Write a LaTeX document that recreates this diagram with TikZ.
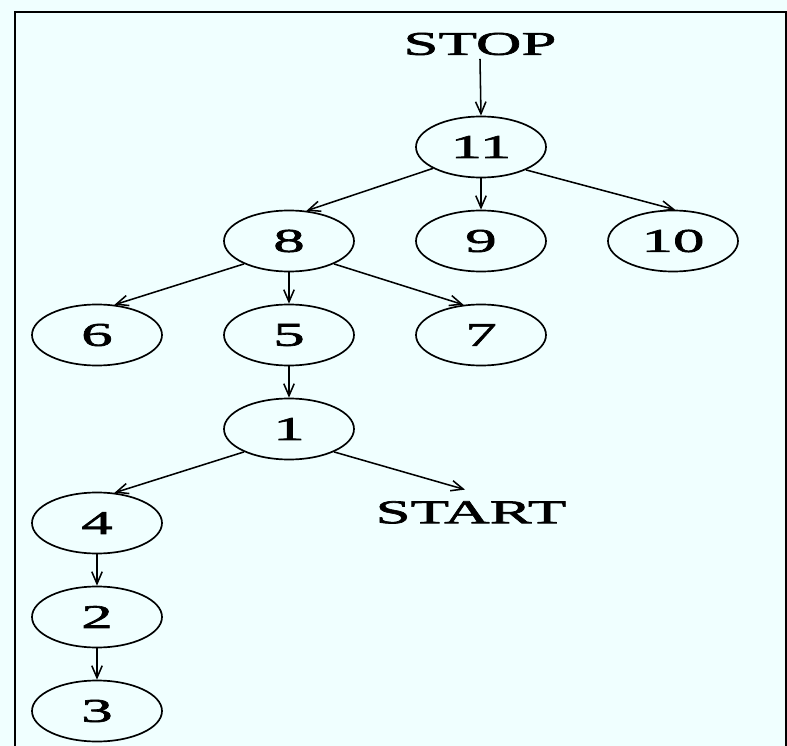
\documentclass[tikz,border=0pt]{standalone}
\usepackage{fontspec}
\setmainfont[FakeStretch=1.9, FakeBold=2]{Liberation Serif}
\usetikzlibrary{shapes.geometric,arrows.meta}
\definecolor{paleazure}{RGB}{240,255,255}
\begin{document}
\begin{tikzpicture}
  \tikzstyle{every node}=[ellipse, minimum width=3.25cm, minimum height=1.525cm, draw=black, line width=1.2pt, font=\fontsize{23.6pt}{28pt}\selectfont]
  \tikzstyle{edge}=[-{Straight Barb[length=3mm,width=2.6mm]}, line width=1.1pt]
    \fill[paleazure] (0,0) rectangle (19.675,-18.65);
    \useasboundingbox (0,0) rectangle (19.675,-18.65);
    \draw[line width=1.6pt] (0.375,-19) |- (19.65,-0.3) -- (19.65,-19);
    \node (N11) at (12.025,-3.675) {11};
    \node (N8) at ([xshift=-4.8cm, yshift=-2.35cm]N11) {8};
    \node (N9) at ([yshift=-2.35cm]N11) {9};
    \node (N10) at ([xshift=4.8cm, yshift=-2.35cm]N11) {10};
    \node (N6) at ([xshift=-4.8cm, yshift=-2.35cm]N8) {6};
    \node (N5) at ([yshift=-2.35cm]N8) {5};
    \node (N7) at ([xshift=4.8cm, yshift=-2.35cm]N8) {7};
    \node (N1) at ([yshift=-2.35cm]N5) {1};
    \node (N4) at ([xshift=-4.8cm, yshift=-2.35cm]N1) {4};
    \node (N2) at ([yshift=-2.35cm]N4) {2};
    \node (N3) at ([yshift=-2.35cm]N2) {3};
    \node[rectangle, draw=none, minimum width=0cm, minimum height=0cm, inner sep=2pt] (STOP) at (12.0,-1.1) {STOP};
    \node[rectangle, draw=none, minimum width=0cm, minimum height=0cm, inner sep=2pt] (START) at (11.775,-12.81) {START};
    \draw[edge] (STOP.south) -- (N11.north);
    \draw[edge] (N11.204) -- (N8.60);
    \draw[edge] (N11.south) -- (N9.north);
    \draw[edge] (N11.333) -- (N10.86);
    \draw[edge] (N8.207) -- (N6.60);
    \draw[edge] (N8.south) -- (N5.north);
    \draw[edge] (N8.333) -- (N7.120);
    \draw[edge] (N5.south) -- (N1.north);
    \draw[edge] (N1.207) -- (N4.60);
    \draw[edge] (N1.333) -- ([xshift=-0.15cm, yshift=0.2cm]START.north);
    \draw[edge] (N4.south) -- (N2.north);
    \draw[edge] (N2.south) -- (N3.north);
  \end{tikzpicture}
\end{document}
